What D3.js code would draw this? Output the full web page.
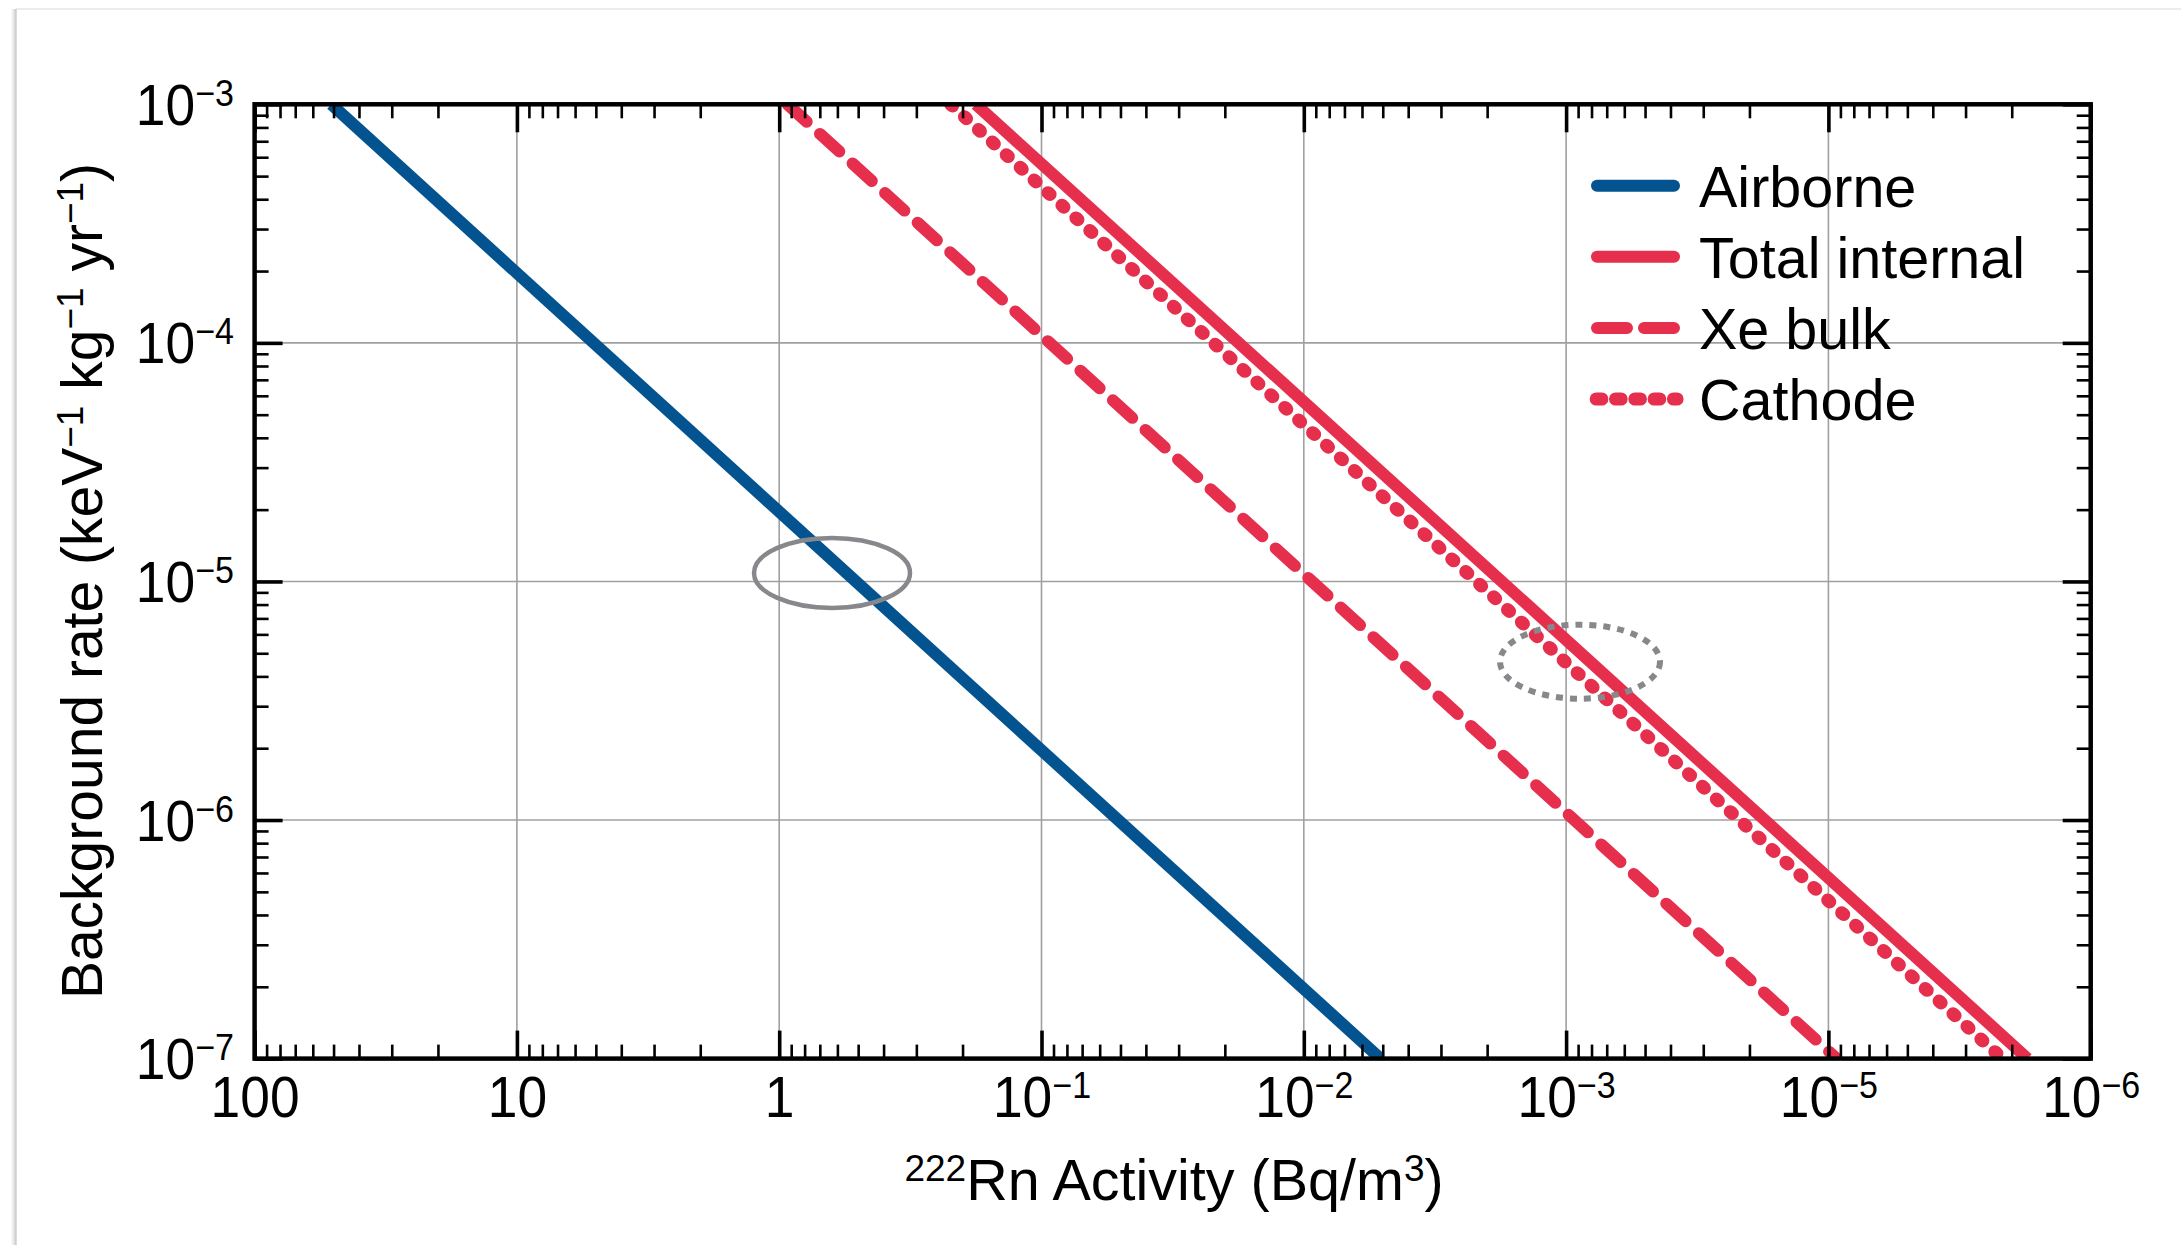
<!DOCTYPE html>
<html>
<head>
<meta charset="utf-8">
<script src="https://cdn.jsdelivr.net/npm/d3@7"></script>
<style>
  html, body { margin: 0; padding: 0; background: #ffffff; }
  svg { display: block; }
  text { font-family: "Liberation Sans", Arial, Helvetica, sans-serif; fill: #000; }
</style>
</head>
<body>
<svg id="chart" width="2181" height="1245"></svg>
<script>
// ---- data ----------------------------------------------------------------
const seriesNames = ["Airborne", "Total internal", "Xe bulk", "Cathode"];
// background rate at the upper and lower end of each line
const rateEnds = [1e-3, 1e-7];
// 222Rn activity (Bq/m^3) where each line meets those two rates
const airborneActivity = [51, 5.1e-3];
const totalActivity    = [0.178, 1.74e-5];
const xeBulkActivity   = [0.93, 9.3e-5];
const cathodeActivity  = [0.222, 2.17e-5];

// axis ticks and their printed labels
const xTickValues = [100, 10, 1, 1e-1, 1e-2, 1e-3, 1e-4, 1e-5];
const xTickBase   = ["100", "10", "1", "10", "10", "10", "10", "10"];
const xTickExp    = ["", "", "", "\u22121", "\u22122", "\u22123", "\u22125", "\u22126"];
const yTickValues = [1e-7, 1e-6, 1e-5, 1e-4, 1e-3];
const yTickBase   = ["10", "10", "10", "10", "10"];
const yTickExp    = ["\u22127", "\u22126", "\u22125", "\u22124", "\u22123"];

// highlighted operating points (activity, rate)
const ringActivity = [0.629, 8.85e-4];
const ringRate     = [1.086e-5, 4.61e-6];

// ---- layout & style ------------------------------------------------------
const W = 2181, H = 1245;
const plot = { left: 254.6, right: 2090.7, top: 104.3, bottom: 1058.6 };
const BLUE = "#02538f", RED = "#e62e4d", RING = "#86888b";
const LINE_W = 12;

const svg = d3.select("#chart");

// card behind the figure
svg.append("rect").attr("x", 0).attr("y", 0).attr("width", W).attr("height", H).attr("fill", "#ffffff");
svg.append("line").attr("x1", 16).attr("x2", W).attr("y1", 9).attr("y2", 9)
  .attr("stroke", "#e6e6e6").attr("stroke-width", 1.5);
svg.append("line").attr("x1", 13).attr("x2", 13).attr("y1", 9).attr("y2", H)
  .attr("stroke", "#ececec").attr("stroke-width", 2.5);
svg.append("line").attr("x1", 15.5).attr("x2", 15.5).attr("y1", 9).attr("y2", H)
  .attr("stroke", "#cfcfcf").attr("stroke-width", 2.5);

// ---- scales --------------------------------------------------------------
const x = d3.scaleLog().domain([100, 1e-5]).range([plot.left, plot.right]);
const y = d3.scaleLog().domain([1e-7, 1e-3]).range([plot.bottom, plot.top]);

const xMinor = [];
xTickValues.filter(v => v < 100).forEach(v => { for (let m = 2; m <= 9; m++) xMinor.push(m * v); });
const yMinor = [];
yTickValues.filter(v => v < 1e-3).forEach(v => { for (let m = 2; m <= 9; m++) yMinor.push(m * v); });

// ---- grid ----------------------------------------------------------------
const grid = svg.append("g").attr("stroke", "#a0a0a0").attr("stroke-width", 1.6);
grid.selectAll(".gx").data(xTickValues.slice(1)).join("line")
  .attr("x1", d => x(d)).attr("x2", d => x(d))
  .attr("y1", plot.top).attr("y2", plot.bottom);
grid.selectAll(".gy").data(yTickValues.slice(1, -1)).join("line")
  .attr("x1", plot.left).attr("x2", plot.right)
  .attr("y1", d => y(d)).attr("y2", d => y(d));

// ---- curves --------------------------------------------------------------
svg.append("clipPath").attr("id", "plotClip").append("rect")
  .attr("x", plot.left).attr("y", plot.top)
  .attr("width", plot.right - plot.left).attr("height", plot.bottom - plot.top);

const line = d3.line().x(d => x(d[0])).y(d => y(d[1]));
const series = [
  { name: seriesNames[0], act: airborneActivity, color: BLUE, width: LINE_W, dash: null,       cap: "butt",
    legendDash: null,       legendX: [1597, 1674] },
  { name: seriesNames[1], act: totalActivity,    color: RED,  width: LINE_W, dash: null,       cap: "butt",
    legendDash: null,       legendX: [1597, 1674] },
  { name: seriesNames[2], act: xeBulkActivity,   color: RED,  width: LINE_W, dash: "26 18",    cap: "round",
    legendDash: "30 17",    legendX: [1597, 1674] },
  { name: seriesNames[3], act: cathodeActivity,  color: RED,  width: 13.2,   dash: "2.5 16.3", cap: "round",
    legendDash: "5.5 13.8", legendX: [1596.3, 1677] }
];

const curves = svg.append("g").attr("clip-path", "url(#plotClip)");
series.forEach(s => {
  curves.append("path")
    .datum(s.act.map((a, i) => [a, rateEnds[i]]))
    .attr("d", line)
    .attr("fill", "none")
    .attr("stroke", s.color)
    .attr("stroke-width", s.width)
    .attr("stroke-linecap", s.cap)
    .attr("stroke-dasharray", s.dash);
});

// ---- rings ---------------------------------------------------------------
svg.append("ellipse")
  .attr("cx", x(ringActivity[0])).attr("cy", y(ringRate[0]))
  .attr("rx", 78).attr("ry", 35)
  .attr("fill", "none").attr("stroke", RING).attr("stroke-width", 4.5);
svg.append("ellipse")
  .attr("cx", x(ringActivity[1])).attr("cy", y(ringRate[1]))
  .attr("rx", 80).attr("ry", 37)
  .attr("fill", "none").attr("stroke", RING).attr("stroke-width", 6)
  .attr("stroke-dasharray", "7 7");

// ---- legend --------------------------------------------------------------
const legend = svg.append("g");
series.forEach((s, i) => {
  const ly = 185.7 + i * 71.1;
  legend.append("line")
    .attr("x1", s.legendX[0]).attr("x2", s.legendX[1]).attr("y1", ly).attr("y2", ly)
    .attr("stroke", s.color).attr("stroke-width", s.width)
    .attr("stroke-linecap", "round")
    .attr("stroke-dasharray", s.legendDash);
  legend.append("text")
    .attr("x", 1699).attr("y", ly + 21)
    .attr("font-size", 57.5)
    .text(s.name);
});

// ---- axes ----------------------------------------------------------------
const TICK_FONT = 58, SUP_FONT = 37, SQUEEZE = 0.92;

function styleTicks(g, width) {
  g.select(".domain").remove();
  g.selectAll(".tick line").attr("stroke", "#000").attr("stroke-width", width);
}

function writeLabel(textSel, base, sup) {
  textSel.text(null);
  textSel.append("tspan").text(base);
  if (sup) textSel.append("tspan").attr("font-size", SUP_FONT).attr("dy", -19).text(sup);
}

// bottom
const gBottomMinor = svg.append("g").attr("transform", `translate(0,${plot.bottom})`)
  .call(d3.axisBottom(x).tickValues(xMinor).tickSize(-14).tickFormat(""));
styleTicks(gBottomMinor, 2.6);
const gBottom = svg.append("g").attr("transform", `translate(0,${plot.bottom})`)
  .call(d3.axisBottom(x).tickValues(xTickValues).tickSize(-28).tickFormat((d, i) => xTickBase[i]));
styleTicks(gBottom, 3.6);
gBottom.selectAll(".tick text").each(function (d, i) {
  const t = d3.select(this)
    .attr("x", 0).attr("y", 58.4).attr("dy", null)
    .attr("text-anchor", "middle")
    .attr("font-size", TICK_FONT).attr("font-family", null).attr("fill", "#000")
    .attr("transform", `scale(${SQUEEZE},1)`);
  writeLabel(t, xTickBase[i], xTickExp[i]);
});
gBottom.attr("font-family", null).attr("font-size", null);

// top
const gTopMinor = svg.append("g").attr("transform", `translate(0,${plot.top})`)
  .call(d3.axisTop(x).tickValues(xMinor).tickSize(-14).tickFormat(""));
styleTicks(gTopMinor, 2.6);
const gTop = svg.append("g").attr("transform", `translate(0,${plot.top})`)
  .call(d3.axisTop(x).tickValues(xTickValues).tickSize(-28).tickFormat(""));
styleTicks(gTop, 3.6);

// left
const gLeftMinor = svg.append("g").attr("transform", `translate(${plot.left},0)`)
  .call(d3.axisLeft(y).tickValues(yMinor).tickSize(-14).tickFormat(""));
styleTicks(gLeftMinor, 2.6);
const gLeft = svg.append("g").attr("transform", `translate(${plot.left},0)`)
  .call(d3.axisLeft(y).tickValues(yTickValues).tickSize(-28).tickFormat((d, i) => yTickBase[i]));
styleTicks(gLeft, 3.6);
gLeft.selectAll(".tick text").each(function (d, i) {
  const t = d3.select(this)
    .attr("x", -20.6 / SQUEEZE).attr("y", 20).attr("dy", null)
    .attr("text-anchor", "end")
    .attr("font-size", TICK_FONT).attr("font-family", null).attr("fill", "#000")
    .attr("transform", `scale(${SQUEEZE},1)`);
  writeLabel(t, yTickBase[i], yTickExp[i]);
});
gLeft.attr("font-family", null).attr("font-size", null);

// right
const gRightMinor = svg.append("g").attr("transform", `translate(${plot.right},0)`)
  .call(d3.axisRight(y).tickValues(yMinor).tickSize(-14).tickFormat(""));
styleTicks(gRightMinor, 2.6);
const gRight = svg.append("g").attr("transform", `translate(${plot.right},0)`)
  .call(d3.axisRight(y).tickValues(yTickValues).tickSize(-28).tickFormat(""));
styleTicks(gRight, 3.6);

// frame
svg.append("rect")
  .attr("x", plot.left).attr("y", plot.top)
  .attr("width", plot.right - plot.left).attr("height", plot.bottom - plot.top)
  .attr("fill", "none").attr("stroke", "#000").attr("stroke-width", 4.5);

// ---- titles --------------------------------------------------------------
const xTitle = svg.append("text")
  .attr("x", 1174).attr("y", 1200)
  .attr("text-anchor", "middle").attr("font-size", 57.5);
xTitle.append("tspan").attr("font-size", SUP_FONT).attr("dy", -19).text("222");
xTitle.append("tspan").attr("dy", 19).text("Rn Activity (Bq/m");
xTitle.append("tspan").attr("font-size", SUP_FONT).attr("dy", -19).text("3");
xTitle.append("tspan").attr("dy", 19).text(")");

const yTitle = svg.append("text")
  .attr("transform", "translate(101.5,581) rotate(-90)")
  .attr("text-anchor", "middle").attr("font-size", 57);
[["Background rate (keV", "\u22121"], [" kg", "\u22121"], [" yr", "\u22121"], [")", ""]].forEach(([main, sup], i) => {
  yTitle.append("tspan").attr("dy", i === 0 ? 0 : 19).text(main);
  if (sup) yTitle.append("tspan").attr("font-size", SUP_FONT).attr("dy", -19).text(sup);
});
</script>
</body>
</html>
